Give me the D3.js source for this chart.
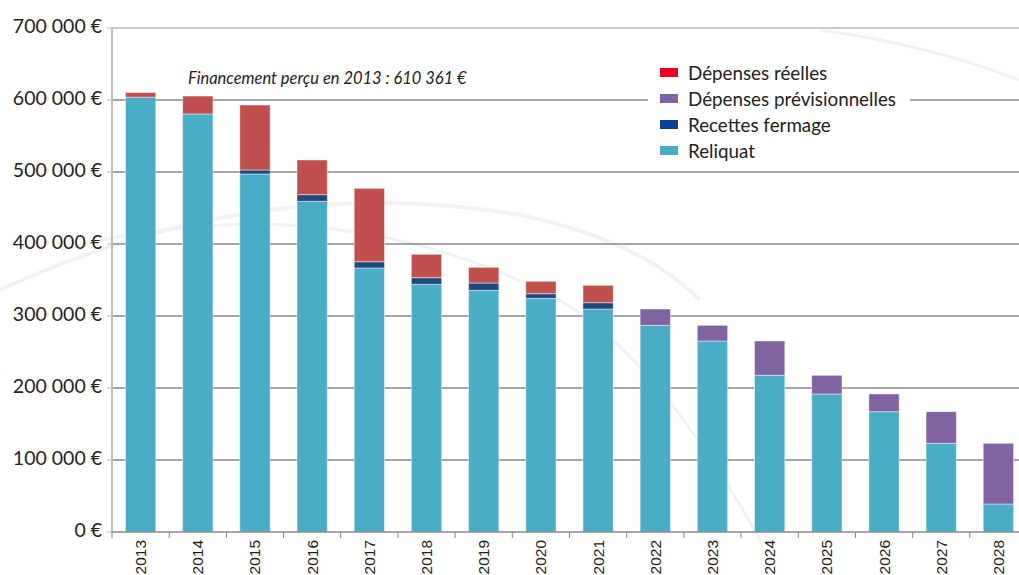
<!DOCTYPE html>
<html>
<head>
<meta charset="utf-8">
<script src="https://cdn.jsdelivr.net/npm/d3@7"></script>
<style>
  body { margin: 0; background: #fff; }
  svg { display: block; }
</style>
</head>
<body>
<div id="chart"></div>
<script>
const years = ['2013','2014','2015','2016','2017','2018','2019','2020',
               '2021','2022','2023','2024','2025','2026','2027','2028'];
const reliquat = [604000, 580600, 497200, 459300, 366700, 344000, 335600, 324500,
                  309700, 287000, 265300, 217600, 191700, 167100, 123200, 38900];
const recettesFermage = [0, 0, 5600, 9200, 8700, 9200, 10200, 6500,
                         8800, 0, 0, 0, 0, 0, 0, 0];
const depensesReelles = [6361, 24900, 90200, 48200, 101900, 32500, 21800, 17200,
                         24100, 0, 0, 0, 0, 0, 0, 0];
const depensesPrevisionnelles = [0, 0, 0, 0, 0, 0, 0, 0,
                                 0, 22700, 21700, 47700, 25900, 24600, 43900, 84300];
const yTicks = [0, 100000, 200000, 300000, 400000, 500000, 600000, 700000];
const legendLabels = ['Dépenses réelles', 'Dépenses prévisionnelles', 'Recettes fermage', 'Reliquat'];
const annotation = 'Financement perçu en 2013 : 610 361 €';

const width = 1019;
const height = 575;

const svg = d3.select('#chart').append('svg')
  .attr('width', width)
  .attr('height', height);

// faint decorative swooshes in the background
const deco = svg.append('g').attr('fill', 'none').attr('stroke', '#f2f2f2');
deco.append('path')
  .attr('d', 'M0,290 Q260,170 520,215 Q640,240 700,300')
  .attr('stroke-width', 4);
deco.append('path')
  .attr('d', 'M60,250 Q330,180 560,300 Q660,360 760,540')
  .attr('stroke-width', 3);
deco.append('path')
  .attr('d', 'M820,30 Q930,45 1019,80')
  .attr('stroke-width', 3);

const x = d3.scaleBand()
  .domain(years)
  .range([112, 1027])
  .paddingInner(0.47)
  .paddingOuter(0.235);

const y = d3.scaleLinear()
  .domain([0, 700000])
  .range([532, 28]);

// grid lines
svg.append('g')
  .selectAll('line')
  .data(yTicks.filter(d => d > 0))
  .enter().append('line')
  .attr('x1', 112)
  .attr('x2', width)
  .attr('y1', d => y(d))
  .attr('y2', d => y(d))
  .attr('stroke', d => d === 700000 ? '#b8b8b8' : '#8a8a8a')
  .attr('stroke-width', 1.3);

// stacked bars
const table = years.map((yr, i) => ({
  year: yr,
  reliquat: reliquat[i],
  recettes: recettesFermage[i],
  reelles: depensesReelles[i],
  previsionnelles: depensesPrevisionnelles[i]
}));

const keys = ['reliquat', 'recettes', 'reelles', 'previsionnelles'];
const barColors = {
  reliquat: '#4bacc6',
  recettes: '#1f497d',
  reelles: '#c0504d',
  previsionnelles: '#8064a2'
};

const series = d3.stack().keys(keys)(table);

svg.append('g')
  .selectAll('g')
  .data(series)
  .enter().append('g')
  .attr('fill', d => barColors[d.key])
  .selectAll('rect')
  .data(d => d.filter(p => p[1] - p[0] > 0))
  .enter().append('rect')
  .attr('x', d => x(d.data.year))
  .attr('width', x.bandwidth())
  .attr('y', d => y(d[1]))
  .attr('height', d => y(d[0]) - y(d[1]))
  .attr('stroke', 'rgba(255,255,255,0.45)')
  .attr('stroke-width', 1);

// y axis line
svg.append('line')
  .attr('x1', 112).attr('x2', 112)
  .attr('y1', 28).attr('y2', 533)
  .attr('stroke', '#bdbdbd')
  .attr('stroke-width', 2);

// y tick marks
svg.append('g')
  .selectAll('line')
  .data(yTicks)
  .enter().append('line')
  .attr('x1', 107).attr('x2', 112)
  .attr('y1', d => y(d)).attr('y2', d => y(d))
  .attr('stroke', '#bdbdbd');

// baseline
svg.append('line')
  .attr('x1', 112).attr('x2', width)
  .attr('y1', y(0)).attr('y2', y(0))
  .attr('stroke', '#8a8a8a')
  .attr('stroke-width', 1.3);

// x tick marks between bars
const gap = (x.step() - x.bandwidth()) / 2;
svg.append('g')
  .selectAll('line')
  .data(years)
  .enter().append('line')
  .attr('x1', d => x(d) - gap).attr('x2', d => x(d) - gap)
  .attr('y1', 532).attr('y2', 538)
  .attr('stroke', '#8a8a8a');

// y labels
const fmt = d => d3.format(',')(d).replace(/,/g, ' ') + ' €';
svg.append('g')
  .selectAll('text')
  .data(yTicks)
  .enter().append('text')
  .attr('x', 102)
  .attr('y', d => y(d) - 2)
  .attr('dy', '0.35em')
  .attr('text-anchor', 'end')
  .attr('font-family', 'Lato, sans-serif')
  .attr('font-size', 19.5)
  .attr('fill', '#222')
  .text(fmt);

// x labels, rotated
svg.append('g')
  .selectAll('text')
  .data(years)
  .enter().append('text')
  .attr('transform', d => `translate(${x(d) + x.bandwidth() / 2 + 5.5},540) rotate(-90)`)
  .attr('text-anchor', 'end')
  .attr('font-family', 'Liberation Sans, Arial, sans-serif')
  .attr('font-size', 15.5)
  .attr('fill', '#222')
  .text(d => d);

// annotation
svg.append('text')
  .attr('x', 188)
  .attr('y', 84)
  .attr('font-family', 'Lato, sans-serif')
  .attr('font-style', 'italic')
  .attr('font-size', 16.5)
  .attr('fill', '#222')
  .text(annotation);

// legend
const legendSwatch = ['#f0001f', '#8064a2', '#0d3f96', '#4bacc6'];
const legend = svg.append('g');
legend.append('rect')
  .attr('x', 648).attr('y', 60)
  .attr('width', 262).attr('height', 104)
  .attr('fill', '#fff');
const items = legend.selectAll('g')
  .data(legendLabels)
  .enter().append('g')
  .attr('transform', (d, i) => `translate(660,${73 + i * 26})`);
items.append('rect')
  .attr('x', 0).attr('y', -5)
  .attr('width', 18).attr('height', 9)
  .attr('fill', (d, i) => legendSwatch[i]);
items.append('text')
  .attr('x', 28)
  .attr('y', 0)
  .attr('dy', '0.35em')
  .attr('font-family', 'Lato, sans-serif')
  .attr('font-size', 18.8)
  .attr('fill', '#222')
  .text(d => d);
</script>
</body>
</html>
